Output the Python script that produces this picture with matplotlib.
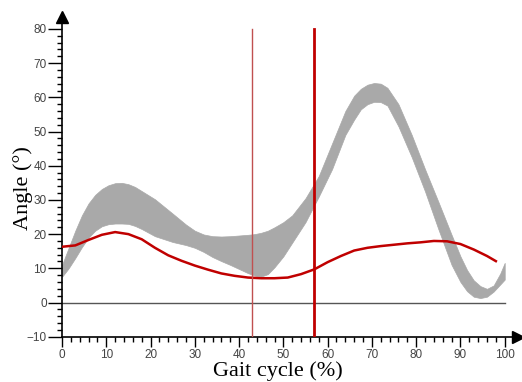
import matplotlib
matplotlib.use("Agg")
import matplotlib.pyplot as plt
import numpy as np

# ---- data ----
band_x = [0, 1.5, 3, 4.5, 6, 7.5, 9, 10.5, 12, 13.5, 15, 16.5, 18, 21, 25, 28, 30, 32,
          34, 36, 38, 40, 42, 43.5, 45, 46.5, 48, 50, 52, 55, 58, 61, 64, 66, 67.5, 69,
          70.5, 72, 73.5, 76, 79, 82, 85, 88, 90, 91.5, 93, 94.5, 96, 97.5, 99, 100]
band_upper = [11, 16, 21, 25.5, 29, 31.5, 33.2, 34.3, 34.9, 35, 34.6, 33.8, 32.6,
              30.2, 26, 22.8, 21, 19.9, 19.4, 19.3, 19.4, 19.6, 19.8, 20, 20.4, 21, 22,
              23.5, 25.5, 30.5, 37, 46.5, 56, 60.5, 62.5, 63.7, 64.2, 64, 62.8, 58, 49,
              39, 29.5, 19.8, 13.5, 9.5, 6.5, 4.8, 4, 5, 8.5, 11.6]
band_lower = [7.5, 10, 13, 16.2, 19, 21, 22.3, 22.9, 23.1, 23.1, 23, 22.4, 21.5,
              19.4, 17.7, 16.8, 16, 14.8, 13.3, 12.1, 11, 9.8, 8.6, 7.9, 7.6, 8.3,
              10.3, 13.5, 17.5, 23.5, 31, 39, 49, 53.5, 56.5, 58, 58.7, 58.6, 57.6,
              51.5, 42.5, 32.5, 21.5, 11, 6, 3.3, 1.7, 1.3, 1.7, 3.2, 5.3, 6.7]
red_x = [0, 3, 6, 9, 12, 15, 18, 21, 24, 27, 30, 33, 36, 39, 42, 45, 48, 51, 54, 57,
         60, 63, 66, 69, 72, 75, 78, 81, 84, 87, 90, 93, 96, 98]
red_y = [16.3, 16.7, 18.3, 19.8, 20.6, 20, 18.5, 16, 13.8, 12.2, 10.8, 9.6, 8.5, 7.8,
         7.3, 7.1, 7.1, 7.3, 8.3, 9.7, 11.8, 13.6, 15.2, 16, 16.5, 16.9, 17.3, 17.6,
         18, 17.9, 17.1, 15.5, 13.6, 12.1]
event_thin = 43
event_thick = 57
x_ticks = list(range(0, 101, 10))
y_ticks = list(range(-10, 81, 10))

fig = plt.figure(figsize=(5.22, 3.82), dpi=100)
ax = fig.add_axes([62/522, (382-336.7)/382, (518-62)/522, (336.7-17)/382])
ax.set_xlim(0, 103)
ax.set_ylim(-10, 83.5)

ax.fill_between(band_x, band_lower, band_upper, color='#a9a9a9', linewidth=0.5,
                edgecolor='#a9a9a9', zorder=1)
ax.axhline(0, xmin=0, xmax=100/103, color='#555555', linewidth=1, zorder=2)
ax.plot(red_x, red_y, color='#c00000', linewidth=1.8, zorder=3)
ax.plot([event_thin, event_thin], [-10, 80], color='#c05050', linewidth=1, zorder=4)
ax.plot([event_thick, event_thick], [-10, 80], color='#c00000', linewidth=2, zorder=4)

for s in ['top', 'right']:
    ax.spines[s].set_visible(False)
for s in ['left', 'bottom']:
    ax.spines[s].set_linewidth(1.2)
    ax.spines[s].set_color('black')

ax.plot([0], [1], marker='^', color='black', markersize=8, transform=ax.transAxes, clip_on=False)
ax.plot([1], [0], marker='>', color='black', markersize=8, transform=ax.transAxes, clip_on=False)

ax.set_xticks(x_ticks)
ax.set_yticks(y_ticks)
ax.set_xticks(np.arange(0, 101, 2), minor=True)
ax.set_yticks(np.arange(-10, 81, 2), minor=True)
ax.tick_params(which='major', direction='out', length=7, width=1, colors='black',
               labelcolor='#444444', labelsize=8.5)
ax.tick_params(axis='y', which='major', length=10)
ax.tick_params(which='minor', direction='out', length=3.6, width=1, colors='black')
for lbl in ax.get_xticklabels() + ax.get_yticklabels():
    lbl.set_family('Liberation Sans')
ax.tick_params(axis='y', pad=1)
ax.tick_params(axis='x', pad=2)

ax.set_xlabel('Gait cycle (%)', family='Liberation Serif', fontsize=16)
ax.set_ylabel('Angle (°)', family='Liberation Serif', fontsize=16)
ax.xaxis.set_label_coords(0.4737, -0.078)
ax.yaxis.set_label_coords(-0.064, 0.4636)

fig.savefig('out.png', dpi=100)
